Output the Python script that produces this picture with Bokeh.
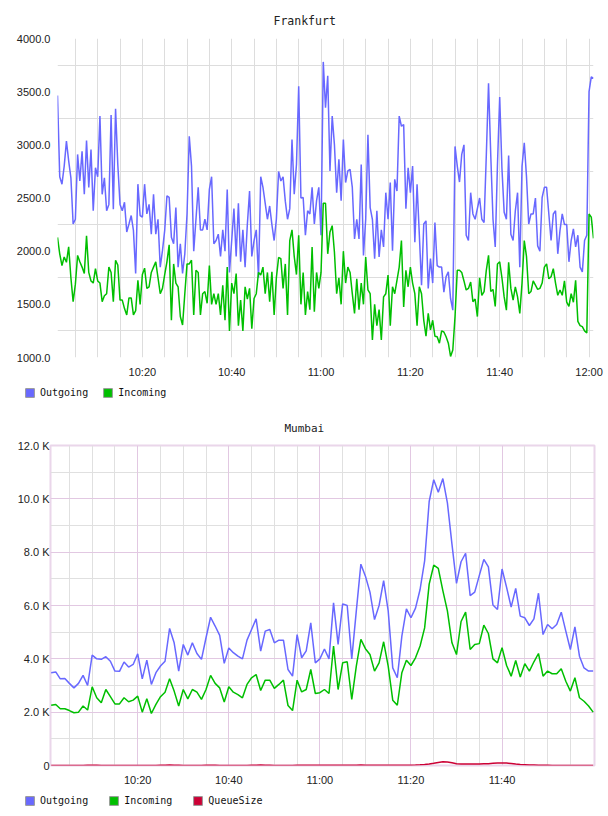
import pandas as pd
from bokeh.plotting import figure
from bokeh.models import (FixedTicker, Grid, Legend, LegendItem, DatetimeTickFormatter,
                          NumeralTickFormatter, CustomJSTickFormatter, Range1d)
from bokeh.embed import file_html
from bokeh.resources import INLINE

# ---------------- data ----------------
DAY = "2013-05-14"

FRA_START = "10:01:00"
FRA_STEP = "30s"
FRA_OUT = [
    3464, 2700, 2630, 2800, 3035, 2850, 2690, 2255, 2300, 2910,
    2660, 2940, 2535, 3040, 2600, 2955, 2380, 2785, 2700, 3270,
    2535, 2690, 2380, 2440, 3280, 2395, 3340, 2815, 2440, 2380,
    2460, 2180, 2255, 2335, 2195, 1790, 2630, 2335, 2320, 2630,
    2350, 2440, 2160, 2535, 2160, 2300, 1850, 2005, 2195, 2520,
    2505, 2130, 2070, 2410, 1850, 2070, 1790, 1975, 2350, 3080,
    2800, 2000, 2300, 2600, 2200, 2200, 2300, 2200, 2580, 2700,
    2070, 2100, 2160, 1950, 2200, 2000, 2580, 1800, 2100, 2400,
    1950, 2450, 1900, 2200, 1850, 2250, 2565, 1950, 2100, 2200,
    1750, 2700, 2600, 2450, 2300, 2425, 2250, 2100, 2300, 2750,
    2660, 2700, 2470, 2300, 2400, 3050, 2535, 2815, 3550, 2500,
    2505, 2150, 2380, 2350, 2600, 2255, 2475, 2600, 2150, 3780,
    3350, 3650, 2755, 3270, 3000, 2550, 2865, 2475, 3050, 2645,
    2755, 2770, 2600, 2115, 2300, 2115, 2815, 1960, 2300, 3095,
    2410, 2300, 1930, 2380, 1945, 2200, 2040, 2550, 2300, 2645,
    2005, 2675, 2565, 3270, 3175, 3190, 2400, 2785, 2550, 2800,
    2085, 2630, 2160, 1680, 2255, 2285, 1650, 1930, 1700, 2270,
    1865, 1850, 1850, 1615, 1760, 1805, 1555, 1445, 2985, 2800,
    2650, 2910, 3000, 2150, 2100, 2550, 2350, 2300, 2400, 2500,
    2300, 2270, 2900, 3580, 2900, 2300, 2040, 2815, 3450, 2780,
    2365, 2300, 2900, 2160, 2100, 2380, 2550, 1850, 2800, 3020,
    2700, 2255, 2350, 2350, 2500, 2050, 2000, 2505, 2600, 2600,
    2350, 2100, 2350, 2380, 1975, 2195, 2350, 2250, 2250, 1900,
    2100, 2210, 2040, 2150, 1850, 1805, 2100, 2150, 3500, 3640, 3625,
]
FRA_IN = [
    2130, 1975, 1865, 1945, 1895, 2040, 1750, 1525, 1690, 1960,
    1900, 1850, 1790, 2145, 1800, 1720, 1700, 1835, 1720, 1700,
    1525, 1580, 1600, 1850, 1800, 1525, 1915, 1870, 1540, 1540,
    1460, 1400, 1560, 1560, 1400, 1440, 1725, 1500, 1780, 1840,
    1650, 1665, 1800, 1850, 1900, 1750, 1600, 1650, 1780, 1900,
    2060, 1350, 1880, 1700, 1665, 1385, 1305, 1600, 1880, 1880,
    1915, 1400, 1820, 1800, 1400, 1600, 1620, 1510, 1865, 1500,
    1600, 1500, 1600, 1400, 1680, 1350, 1850, 1250, 1700, 1600,
    1790, 1300, 1540, 1250, 1665, 1550, 1650, 1270, 1555, 1600,
    1800, 1775, 1850, 1600, 1800, 1525, 1805, 1400, 1750, 1940,
    1930, 1650, 1880, 1400, 2100, 2200, 1950, 1780, 2150, 1500,
    1800, 1400, 1620, 1450, 2040, 1430, 1800, 1650, 1800, 2450,
    2450, 1975, 2180, 2240, 1990, 1600, 1750, 1500, 2000, 1700,
    1850, 1800, 1600, 1415, 1740, 1450, 1700, 1500, 1945, 1635,
    1600, 1165, 1500, 1300, 1450, 1165, 1570, 1600, 1775, 1300,
    1665, 1600, 1725, 1850, 2100, 1475, 1820, 1665, 1850, 1700,
    1600, 1300, 1665, 1600, 1350, 1200, 1415, 1260, 1350, 1200,
    1195, 1135, 1250, 1240, 1195, 1135, 1010, 1070, 1385, 1820,
    1820, 1800, 1720, 1635, 1650, 1710, 1525, 1550, 1385, 1750,
    1585, 1620, 1820, 1960, 1620, 1640, 1480, 1880, 1900, 1750,
    1570, 1445, 1895, 1650, 1540, 1665, 1570, 1415, 1700, 2100,
    1950, 1600, 1620, 1720, 1680, 1640, 1650, 1700, 1850, 1880,
    1740, 1760, 1835, 1700, 1585, 1635, 1585, 1720, 1520, 1480,
    1600, 1520, 1725, 1340, 1300, 1290, 1250, 1230, 2350, 2320, 2120,
]
FRA_Y_TICKS = [1000, 1500, 2000, 2500, 3000, 3500, 4000]
FRA_Y_GRID = [1250, 1750, 2250, 2750, 3250, 3750]
FRA_X_TICKS = ["10:20", "10:40", "11:00", "11:20", "11:40", "12:00"]

MUM_START = "10:01:00"
MUM_STEP = "1min"
MUM_OUT = [
    3480, 3510, 3250, 3260, 3080, 2910, 3080, 3380, 3000, 4140,
    4000, 3980, 4080, 3910, 3540, 3530, 3880, 3690, 3790, 4190,
    3250, 3950, 3040, 3480, 3730, 3910, 5140, 4600, 3540, 4540,
    4140, 4600, 4200, 3980, 4790, 5560, 5230, 4880, 3830, 4410,
    4230, 4100, 4000, 4700, 5100, 5500, 4290, 5040, 5100, 4600,
    4700, 4700, 3600, 3350, 4910, 4040, 4300, 5350, 3850, 4000,
    4370, 4000, 6100, 4540, 6060, 6000, 4000, 5800, 7550, 7100,
    6500, 5470, 6000, 6930, 5800, 3660, 3290, 4850, 5870, 5540,
    5900, 6600, 7670, 9900, 10720, 10250, 10760, 9850, 8300, 6830,
    7640, 7960, 6370, 6500, 7120, 7730, 7450, 6020, 5850, 7370,
    6680, 5940, 6640, 5600, 5540, 5250, 5500, 6460, 4910, 5290,
    5130, 5290, 5750, 5040, 4350, 5200, 4100, 3660, 3540, 3540,
]
MUM_IN = [
    2260, 2290, 2130, 2130, 2060, 1980, 2000, 2230, 2080, 2950,
    2540, 2350, 2850, 2580, 2310, 2310, 2540, 2390, 2450, 2600,
    2000, 2500, 1950, 2290, 2580, 2750, 3250, 2790, 2230, 2850,
    2500, 2850, 2750, 2480, 2850, 3380, 3080, 2910, 2380, 2950,
    2750, 2660, 2540, 3040, 3290, 3410, 2810, 3200, 3200, 2890,
    3040, 3200, 2250, 2060, 3200, 2760, 2850, 3600, 2700, 2730,
    2850, 2700, 4480, 2850, 3850, 3890, 2480, 3730, 4730, 4380,
    4160, 3540, 3850, 4640, 3730, 2450, 2260, 3480, 3950, 3750,
    4040, 4480, 5160, 6800, 7510, 7390, 6560, 5800, 4600, 4160,
    5400, 5750, 4350, 4540, 4570, 5260, 4950, 4000, 3850, 4420,
    3750, 3350, 3940, 3320, 3820, 3540, 3890, 4200, 3350, 3540,
    3440, 3440, 3630, 3160, 2790, 3290, 2540, 2410, 2230, 2000,
]
MUM_QUEUE = [
    0, 0, 0, 0, 0, 0, 0, 0, 5, 10,
    5, 0, 0, 0, 0, 0, 0, 0, 0, 0,
    0, 0, 0, 0, 5, 10, 15, 10, 5, 0,
    0, 0, 0, 0, 5, 10, 5, 0, 0, 0,
    0, 0, 0, 0, 5, 10, 15, 10, 5, 0,
    0, 0, 0, 0, 5, 10, 10, 5, 5, 5,
    5, 5, 10, 5, 5, 5, 5, 10, 15, 10,
    10, 5, 5, 10, 10, 5, 5, 10, 10, 10,
    15, 25, 40, 60, 85, 115, 140, 135, 100, 65,
    55, 55, 55, 60, 60, 65, 70, 80, 90, 95,
    90, 75, 55, 40, 30, 20, 15, 10, 5, 5,
    0, 0, 0, 0, 0, 0, 0, 0, 0, 0,
]
MUM_Y_TICKS = [0, 2000, 4000, 6000, 8000, 10000, 12000]
MUM_Y_MAJOR_GRID = [2000, 4000, 6000, 8000, 10000]
MUM_Y_MINOR_GRID = [1000, 3000, 5000, 7000, 9000, 11000]
MUM_X_TICKS = ["10:20", "10:40", "11:00", "11:20", "11:40"]

# ---------------- styles ----------------
C_OUT = "#6868ff"
C_IN = "#00bf00"
C_Q = "#cc0035"
TICK_FONT = "Liberation Sans"
MONO = "DejaVu Sans Mono"


def ms(hhmm):
    return pd.Timestamp(f"{DAY} {hhmm}").value / 1e6


def fmt_time():
    f = "%H:%M"
    return DatetimeTickFormatter(seconds=f, minsec=f, minutes=f, hourmin=f, hours=f, days=f)


def style_axes(p, xstand, ystand):
    for ax in (p.xaxis[0], p.yaxis[0]):
        ax.axis_line_color = None
        ax.major_tick_line_color = None
        ax.minor_tick_line_color = None
        ax.major_tick_out = 0
        ax.major_tick_in = 0
        ax.minor_tick_out = 0
        ax.minor_tick_in = 0
        ax.major_label_text_font = TICK_FONT
        ax.major_label_text_font_size = "11px"
        ax.major_label_text_color = "#222222"
    p.xaxis[0].major_label_standoff = xstand
    p.yaxis[0].major_label_standoff = ystand


def legend_fig(items, x, spacing):
    # a strip holding only the legend; swatch hosts sit outside its visible range
    lf = figure(width=608, height=28, output_backend="svg", toolbar_location=None,
                x_range=Range1d(0, 1), y_range=Range1d(0, 1),
                x_axis_location=None, y_axis_location=None, min_border=0)
    lf.outline_line_color = None
    lf.grid.visible = False
    leg_items = []
    for label, color in items:
        sw = lf.quad(left=[5], right=[6], top=[6], bottom=[5],
                     fill_color=color, line_color="#999999")
        leg_items.append(LegendItem(label=label, renderers=[sw]))
    lg = Legend(items=leg_items, location=(x, 10), orientation="horizontal",
                glyph_width=11, glyph_height=11, label_standoff=5, spacing=spacing,
                padding=0, margin=0, border_line_color=None, background_fill_alpha=0,
                label_text_font=MONO, label_text_font_size="10px", label_text_color="#111111",
                label_height=11)
    lf.add_layout(lg)
    return lf


# ---------------- Frankfurt ----------------
fra_t = pd.date_range(f"{DAY} {FRA_START}", periods=len(FRA_OUT), freq=FRA_STEP)
fra_grid_x = [t.value / 1e6 for t in pd.date_range(f"{DAY} 10:05", f"{DAY} 12:00", freq="5min")]

p1 = figure(width=608, height=380, x_axis_type="datetime", output_backend="svg",
            toolbar_location=None, x_range=Range1d(fra_t[0], fra_t[-1]),
            y_range=Range1d(1000, 4000), min_border_left=57, min_border_right=15,
            min_border_top=37, min_border_bottom=22)
p1.outline_line_color = None
p1.xgrid.ticker = FixedTicker(ticks=fra_grid_x)
p1.ygrid.ticker = FixedTicker(ticks=FRA_Y_GRID)
for g in (p1.xgrid[0], p1.ygrid[0]):
    g.grid_line_color = "#dddddd"
    g.grid_line_width = 1
p1.xaxis.ticker = FixedTicker(ticks=[ms(s) for s in FRA_X_TICKS])
p1.xaxis.formatter = fmt_time()
p1.yaxis.ticker = FixedTicker(ticks=FRA_Y_TICKS)
p1.yaxis.formatter = NumeralTickFormatter(format="0.0")
style_axes(p1, 8, 7)

p1.line(fra_t, FRA_OUT, line_color=C_OUT, line_width=1.5)
p1.line(fra_t, FRA_IN, line_color=C_IN, line_width=1.5)

p1.title.text = "Frankfurt"
p1.title.align = "left"
p1.title.offset = 216
p1.title.text_font = MONO
p1.title.text_font_size = "11.5px"
p1.title.text_font_style = "normal"
p1.title.text_color = "#222222"
p1.title.standoff = 22

leg1 = legend_fig([("Outgoing", C_OUT), ("Incoming", C_IN)], 24, 14)

# ---------------- Mumbai ----------------
mum_t = pd.date_range(f"{DAY} {MUM_START}", periods=len(MUM_OUT), freq=MUM_STEP)
five = pd.date_range(f"{DAY} 10:05", f"{DAY} 11:55", freq="5min")
mum_minor_x = [t.value / 1e6 for t in five if t.minute % 20 != 0]
mum_major_x = [ms(s) for s in MUM_X_TICKS]

p2 = figure(width=608, height=380, x_axis_type="datetime", output_backend="svg",
            toolbar_location=None,
            x_range=Range1d(mum_t[0] - pd.Timedelta(seconds=9), mum_t[-1] + pd.Timedelta(seconds=18)),
            y_range=Range1d(0, 12000), min_border_left=50, min_border_right=14,
            min_border_top=36, min_border_bottom=22)
p2.outline_line_color = "#ead6ea"
p2.outline_line_width = 2
p2.xgrid.ticker = FixedTicker(ticks=mum_minor_x)
p2.ygrid.ticker = FixedTicker(ticks=MUM_Y_MINOR_GRID)
for g in (p2.xgrid[0], p2.ygrid[0]):
    g.grid_line_color = "#e0e0e0"
    g.grid_line_width = 1
p2.add_layout(Grid(dimension=0, ticker=FixedTicker(ticks=mum_major_x), grid_line_color="#e2c8e2"))
p2.add_layout(Grid(dimension=1, ticker=FixedTicker(ticks=MUM_Y_MAJOR_GRID), grid_line_color="#e2c8e2"))
p2.xaxis.ticker = FixedTicker(ticks=mum_major_x)
p2.xaxis.formatter = fmt_time()
p2.yaxis.ticker = FixedTicker(ticks=MUM_Y_TICKS)
p2.yaxis.formatter = CustomJSTickFormatter(
    code="return tick == 0 ? '0' : (tick / 1000).toFixed(1) + ' K';")
style_axes(p2, 8, 1)

p2.line(mum_t, MUM_OUT, line_color=C_OUT, line_width=1.5)
p2.line(mum_t, MUM_IN, line_color=C_IN, line_width=1.5)
p2.line(mum_t, MUM_QUEUE, line_color=C_Q, line_width=1.5)

p2.title.text = "Mumbai"
p2.title.align = "left"
p2.title.offset = 234
p2.title.text_font = MONO
p2.title.text_font_size = "11px"
p2.title.text_font_style = "normal"
p2.title.text_color = "#222222"
p2.title.standoff = 22

leg2 = legend_fig([("Outgoing", C_OUT), ("Incoming", C_IN), ("QueueSize", C_Q)], 24, 20)

html = file_html([p1, leg1, p2, leg2], INLINE)
html = html.replace("<head>", "<head><style>body{margin:0;padding:0}</style>", 1)
open("out.html", "w").write(html)
